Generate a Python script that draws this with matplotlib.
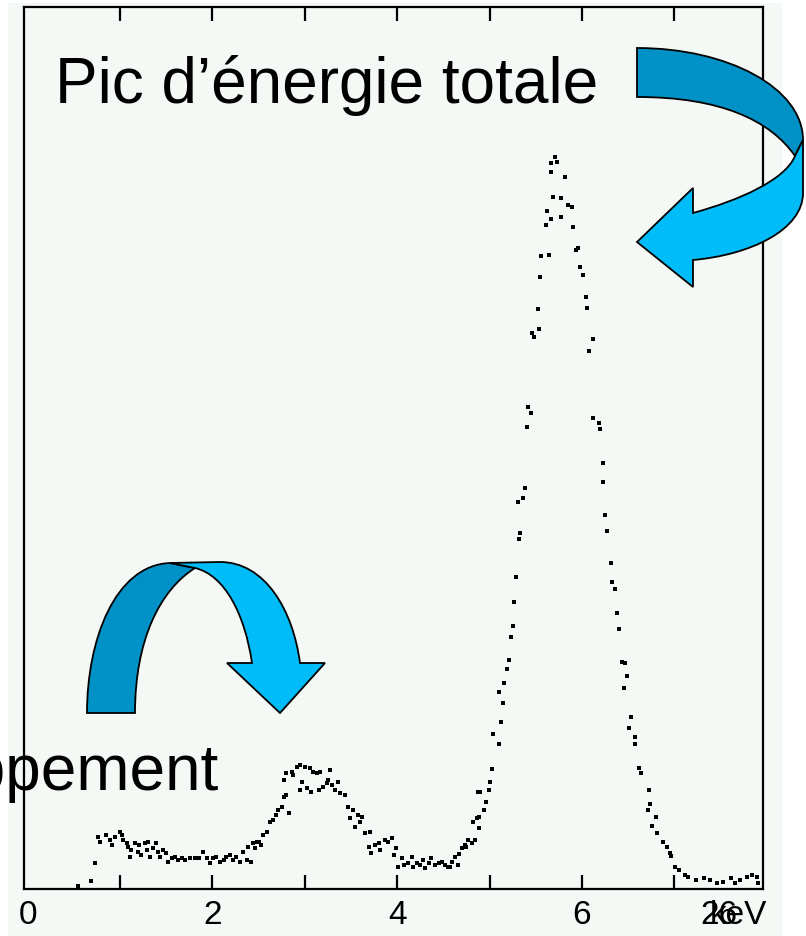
import matplotlib
matplotlib.use('Agg')
import matplotlib.pyplot as plt
from matplotlib.path import Path
from matplotlib.patches import PathPatch, Rectangle
from matplotlib.transforms import blended_transform_factory

# spectrum points (energy in keV, counts in arbitrary units)
energy = [
    0.54, 0.69, 0.73,
    0.76, 0.78, 0.85, 0.89, 0.91, 0.94, 1.00, 1.02, 1.03, 1.07, 1.09, 1.11,
    1.12, 1.16, 1.19, 1.21, 1.23, 1.27, 1.29, 1.30, 1.32, 1.36, 1.39, 1.41,
    1.43, 1.47, 1.50, 1.52, 1.56, 1.59, 1.63, 1.67, 1.70, 1.76, 1.81, 1.85,
    1.90, 1.94, 1.97, 2.01, 2.04, 2.08, 2.12, 2.15, 2.19, 2.22, 2.26, 2.30,
    2.33, 2.37, 2.39, 2.42, 2.44, 2.48,
    2.46, 2.50, 2.53, 2.55, 2.59, 2.62, 2.66, 2.69, 2.71, 2.75, 2.77, 2.80,
    2.83, 2.77, 2.80, 2.86, 2.87, 2.91, 2.95, 2.97, 2.95, 3.00, 3.02, 3.06,
    3.07, 3.09, 3.13, 3.15, 3.16, 3.20, 3.24, 3.25, 3.27, 3.29, 3.33, 3.36,
    3.38, 3.43, 3.47, 3.49, 3.52, 3.54, 3.58, 3.60, 3.62, 3.65, 3.71, 3.69,
    3.72, 3.76, 3.80, 3.81, 3.87, 3.90, 3.94, 3.96, 3.99, 4.01, 4.05, 4.07,
    4.12, 4.16, 4.17, 4.21, 4.25, 4.28, 4.30, 4.34, 4.37, 4.41, 4.45, 4.48,
    4.52, 4.55, 4.59, 4.63, 4.66, 4.70, 4.73, 4.77, 4.81, 4.82, 4.86, 4.88,
    4.57, 4.67, 4.75, 4.84, 4.89, 4.89, 4.94, 4.96, 4.90, 4.99, 5.01, 5.03,
    5.10, 5.04, 5.12, 5.14, 5.10, 5.16, 5.19, 5.21, 5.23, 5.25, 5.26, 5.29,
    5.32, 5.33, 5.31, 5.36, 5.38, 5.40, 5.42, 5.45, 5.46, 5.48, 5.54, 5.52,
    5.55, 5.56, 5.64, 5.61, 5.62, 5.67, 5.69, 5.67, 5.66, 5.71, 5.73, 5.82,
    5.77, 5.77, 5.85, 5.89, 5.90, 5.96, 5.94, 5.98, 6.01, 6.04, 6.05, 6.12,
    6.08, 6.12, 6.19, 6.20, 6.23, 6.23, 6.25, 6.27, 6.31, 6.33, 6.36, 6.38,
    6.40, 6.43, 6.47, 6.49, 6.46, 6.53, 6.51, 6.57, 6.57, 6.62, 6.64, 6.73,
    6.74, 6.72, 6.80, 6.76, 6.81, 6.88, 6.92, 6.95, 6.96, 7.01, 7.05, 7.12,
    7.15, 7.24, 7.32, 7.39, 7.46, 7.53, 7.61, 7.66, 7.71, 7.79, 7.84, 7.89,
    7.91,
]
counts = [
    3, 8, 26,
    52, 47, 54, 49, 44, 52, 57, 54, 49, 46, 42, 32,
    39, 46, 37, 44, 34, 46, 39, 47, 32, 41, 46, 37,
    32, 39, 36, 27, 31, 32, 29, 31, 29, 31, 31, 31,
    37, 31, 26, 31, 32, 27, 29, 32, 34, 29, 32, 27,
    37, 29, 42, 27, 46, 47,
    41, 47, 44, 54, 57, 67, 69, 74, 79, 82, 92, 94,
    76, 109, 116, 117, 114, 122, 124, 107, 99, 122, 101, 121,
    97, 117, 116, 99, 117, 102, 106, 109, 119, 104, 99, 107,
    96, 94, 82, 71, 79, 62, 74, 67, 72, 56, 57, 42,
    36, 44, 46, 39, 49, 47, 51, 34, 41, 22, 31, 24,
    26, 32, 22, 26, 24, 29, 21, 26, 31, 24, 26, 27,
    24, 22, 27, 32, 24, 41, 44, 49, 46, 67, 71, 97,
    22, 35, 42, 49, 61, 72, 79, 87, 97, 99, 107, 120,
    145, 155, 167, 186, 197, 206, 220, 229, 252, 263, 287, 312,
    350, 356, 387, 391, 401, 462, 482, 476, 556, 552, 560, 580,
    612, 633, 634, 664, 678, 670, 692, 717, 726, 732, 727, 712,
    691, 672, 684, 682, 662, 641, 639, 622, 614, 592, 581, 550,
    538, 471, 466, 460, 426, 407, 374, 358, 326, 307, 300, 276,
    260, 227, 226, 213, 201, 172, 161, 152, 145, 121, 116, 99,
    85, 79, 72, 63, 56, 47, 42, 36, 33, 22, 19, 14,
    12, 9, 11, 9, 6, 7, 11, 6, 9, 12, 14, 12,
    6,
]

tick_pos = [1, 2, 3, 4, 5, 6, 7]
label_pos = [0, 2, 4, 6]
label_txt = ['0', '2', '4', '6']

W, H = 806, 936
bg = '#f4f9f5'
dark_blue = '#0092c6'
light_blue = '#00bcf8'
font = ['Liberation Sans', 'DejaVu Sans']

fig = plt.figure(figsize=(W / 100, H / 100), dpi=100)
fig.patch.set_facecolor('white')
fig.add_artist(Rectangle((8 / W, 0), 774 / W, 1 - 3 / H, transform=fig.transFigure,
                         facecolor=bg, edgecolor='none', zorder=0))

ax = fig.add_axes([24 / W, 47 / H, 739 / W, 882 / H])
ax.set_facecolor(bg)
ax.plot(energy, counts, 's', ms=3.0, color='black', mew=0)
ax.set_xlim(-0.04, 7.96)
ax.set_ylim(0, 882)
ax.set_xticks(tick_pos)
ax.set_yticks([])
ax.tick_params(axis='x', direction='in', length=10, width=1.6, top=True,
               labelbottom=False)
for s in ax.spines.values():
    s.set_linewidth(1.6)

trans = blended_transform_factory(ax.transData, fig.transFigure)
for p, t in zip(label_pos, label_txt):
    ax.text(p, 1 - 916 / H, t, transform=trans, ha='center', va='center',
            fontsize=24, family=font)
ax.text(7.48, 1 - 916 / H, '26', transform=trans, ha='center', va='center',
        fontsize=24, family=font)
ax.text(7.69, 1 - 916 / H, 'keV', transform=trans, ha='center', va='center',
        fontsize=24, family=font)

fig.text(55 / W, 1 - 103 / H, 'Pic d\u2019énergie totale', fontsize=46,
         family=font, va='baseline', ha='left', zorder=5)
fig.text(218 / W, 1 - 790 / H, 'Pic d\u2019échappement', fontsize=46,
         family=font, va='baseline', ha='right', zorder=5)


def shape(steps, color):
    verts, codes = [], []
    for st in steps:
        if st[0] == 'M':
            verts.append(st[1]); codes.append(Path.MOVETO)
        elif st[0] == 'L':
            verts.append(st[1]); codes.append(Path.LINETO)
        else:
            verts += [st[1], st[2], st[3]]; codes += [Path.CURVE4] * 3
    verts.append(verts[0]); codes.append(Path.CLOSEPOLY)
    verts = [(x / W, 1 - y / H) for x, y in verts]
    fig.add_artist(PathPatch(Path(verts, codes), facecolor=color, edgecolor='black',
                             lw=1.3, transform=fig.transFigure, zorder=6))


# curved arrow, top right
shape([('M', (637, 48)), ('C', (728, 48), (803, 88), (803, 140)),
       ('L', (795, 156)), ('C', (770, 120), (720, 97), (637, 97))], dark_blue)
shape([('M', (803, 140)), ('L', (803, 193)),
       ('C', (803, 230), (750, 255), (693, 260)),
       ('L', (693, 287)), ('L', (637, 242)), ('L', (693, 188)), ('L', (693, 213)),
       ('C', (740, 200), (785, 180), (795, 156))], light_blue)

# curved arrow, bottom left
shape([('M', (87, 713)), ('C', (87, 640), (115, 565), (170, 563)),
       ('L', (195, 568)), ('C', (160, 590), (135, 640), (135, 713))], dark_blue)
shape([('M', (170, 563)), ('L', (220, 562)),
       ('C', (265, 562), (293, 610), (300, 663)),
       ('L', (325, 663)), ('L', (280, 713)), ('L', (227, 663)), ('L', (252, 663)),
       ('C', (245, 615), (225, 575), (195, 568))], light_blue)

fig.savefig('out.png', dpi=100, facecolor=fig.get_facecolor())
